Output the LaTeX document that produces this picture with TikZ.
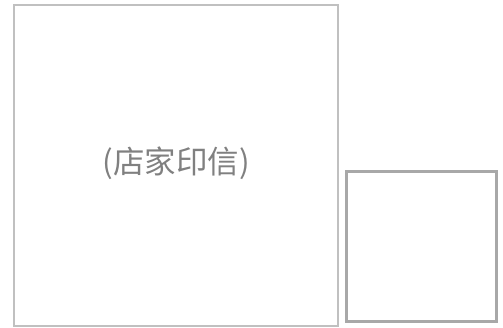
\documentclass[tikz,border=0pt]{standalone}
\usepackage{fontspec}
\newfontfamily\cjk{Noto Sans CJK SC}
\definecolor{sealgray}{HTML}{C0C0C0}
\definecolor{boxgray}{HTML}{A8A8A8}
\definecolor{textgray}{HTML}{808080}
\begin{document}
\begin{tikzpicture}[
			x=1pt, y=-1pt,
			seal/.style={draw=sealgray, line width=2pt},
			smallbox/.style={draw=boxgray, line width=2.6pt},
			label/.style={text=textgray, font=\cjk\fontsize{31.5}{36}\selectfont}
		]
		\useasboundingbox (0,0) rectangle (503,327);
		\draw[seal] (14,5) rectangle (338,325.5);
		\node[label] (stamp) at (176,163) {(店家印信)};

		\draw[smallbox] (346.5,171.5) rectangle (496.5,321.5);
	\end{tikzpicture}
\end{document}
